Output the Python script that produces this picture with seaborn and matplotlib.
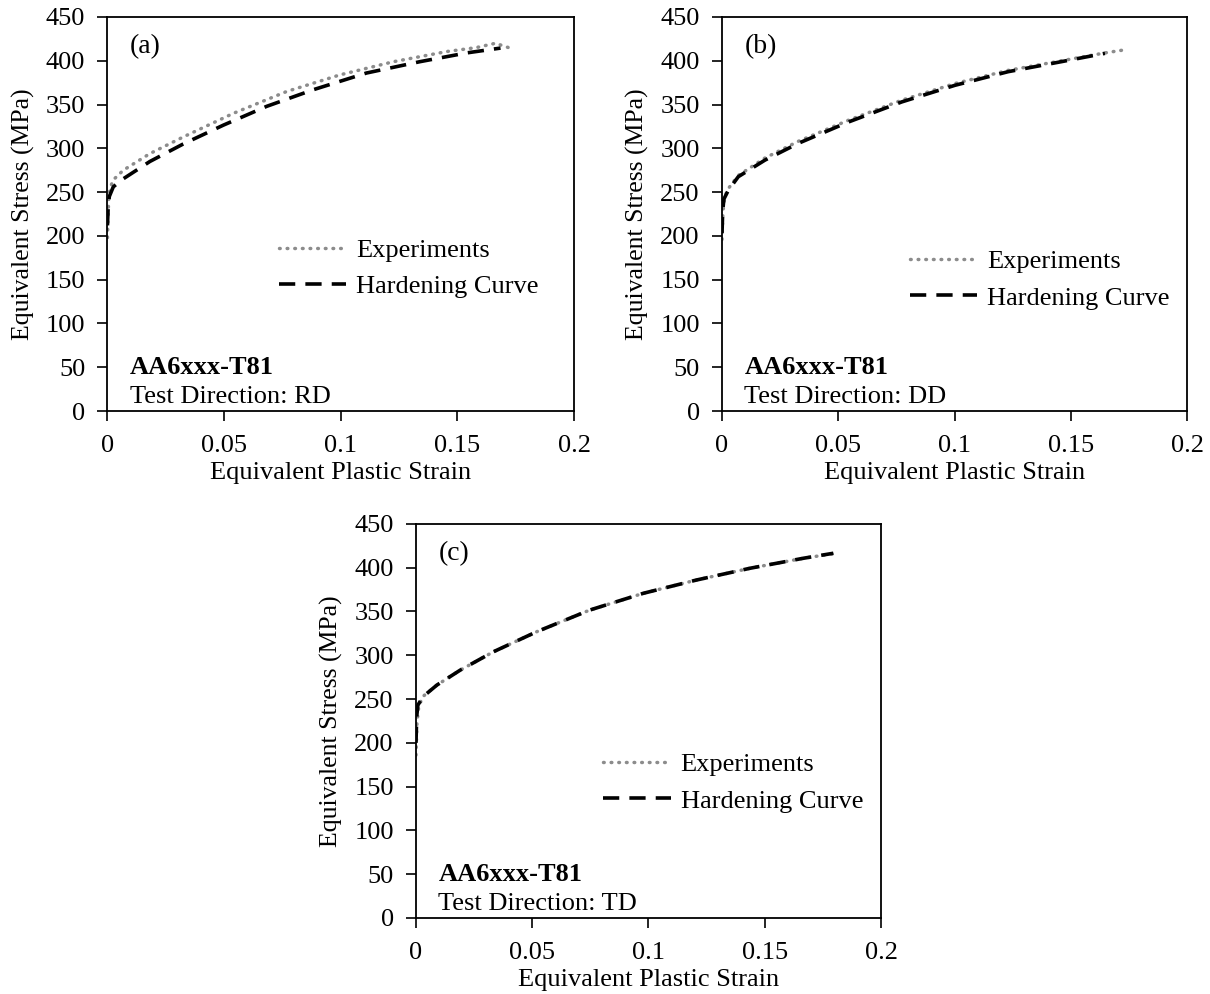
import matplotlib
matplotlib.use("Agg")
import matplotlib.pyplot as plt
import seaborn as sns
import pandas as pd

# ---------------- data ----------------
# (a) RD
a_exp_strain = [0, 0.0005, 0.0012, 0.0025, 0.0068, 0.0182, 0.0325, 0.054, 0.0769, 0.0998, 0.1227, 0.1456, 0.1580, 0.1663, 0.172]
a_exp_stress = [198, 241, 255, 264, 275, 294, 313, 340, 365, 384, 399, 410.6, 415, 420, 415]
a_fit_strain = [0, 0.0003, 0.0008, 0.0025, 0.0061, 0.0182, 0.0325, 0.0497, 0.0683, 0.0883, 0.111, 0.134, 0.154, 0.1685]
a_fit_stress = [212, 232, 245, 256, 264, 285, 305, 326.5, 348, 367, 386, 399, 409, 414.5]

# (b) DD
b_exp_strain = [0, 0.0004, 0.0012, 0.0027, 0.007, 0.0185, 0.0328, 0.0543, 0.0773, 0.1002, 0.123, 0.146, 0.1647, 0.172]
b_exp_stress = [196, 228, 245, 254, 269, 289, 308, 332, 355, 374, 389, 400, 409, 412]
b_fit_strain = [0, 0.0003, 0.0008, 0.0027, 0.007, 0.0185, 0.0328, 0.0543, 0.0773, 0.1002, 0.123, 0.146, 0.1647]
b_fit_stress = [203, 228, 242, 252, 267.6, 286.6, 305.7, 330, 353, 372, 387.5, 399, 408.5]

# (c) TD
c_exp_strain = [0, 0.0004, 0.0012, 0.003, 0.009, 0.019, 0.0333, 0.052, 0.0748, 0.0978, 0.1207, 0.1437, 0.1666, 0.1795]
c_exp_stress = [186, 222, 242, 253, 266, 283, 304, 327, 351.7, 370.8, 386, 399.4, 410.8, 416]
c_fit_strain = [0, 0.0003, 0.0008, 0.003, 0.009, 0.019, 0.0333, 0.052, 0.0748, 0.0978, 0.1207, 0.1437, 0.1666, 0.1795]
c_fit_stress = [200, 230, 243, 252.7, 266, 283, 304, 327, 351.7, 370.8, 386, 399.4, 410.8, 416.5]

panel_tags = ["(a)", "(b)", "(c)"]
directions = ["RD", "DD", "TD"]
series_names = ["Experiments", "Hardening Curve"]
x_ticks = [0, 0.05, 0.1, 0.15, 0.2]
y_ticks = [0, 50, 100, 150, 200, 250, 300, 350, 400, 450]

# ---------------- style ----------------
sns.set_theme(style="ticks")
plt.rcParams["font.family"] = ["Liberation Serif", "DejaVu Serif"]
plt.rcParams["font.size"] = 19
plt.rcParams["text.color"] = "black"
plt.rcParams["axes.labelcolor"] = "black"
plt.rcParams["xtick.color"] = "black"
plt.rcParams["ytick.color"] = "black"
plt.rcParams["axes.linewidth"] = 1.3

FS = 19
fig = plt.figure(figsize=(12.1, 9.94), dpi=100)
positions = [
    [0.0888, 0.5865, 0.3856, 0.3964],
    [0.5967, 0.5865, 0.3843, 0.3964],
    [0.3438, 0.0765, 0.3843, 0.3964],
]
legend_anchor = [(0.345, 0.362), (0.381, 0.333), (0.38, 0.343)]

panels = [
    (a_exp_strain, a_exp_stress, a_fit_strain, a_fit_stress),
    (b_exp_strain, b_exp_stress, b_fit_strain, b_fit_stress),
    (c_exp_strain, c_exp_stress, c_fit_strain, c_fit_stress),
]

for i, (es, ey, fs, fy) in enumerate(panels):
    ax = fig.add_axes(positions[i])
    df_exp = pd.DataFrame({"strain": es, "stress": ey})
    df_fit = pd.DataFrame({"strain": fs, "stress": fy})
    sns.lineplot(data=df_exp, x="strain", y="stress", ax=ax, sort=False, estimator=None,
                 color="#8c8c8c", linewidth=2.5, linestyle=(0, (0.2, 2.0)),
                 dash_capstyle="round", label=series_names[0])
    sns.lineplot(data=df_fit, x="strain", y="stress", ax=ax, sort=False, estimator=None,
                 color="black", linewidth=2.6, linestyle=(0, (4.5, 2.8)),
                 label=series_names[1])
    ax.set_xlim(0, 0.2)
    ax.set_ylim(0, 450)
    ax.set_xticks(x_ticks)
    ax.set_xticklabels([f"{t:g}" for t in x_ticks])
    ax.set_yticks(y_ticks)
    ax.tick_params(axis="both", direction="out", length=7, width=1.2, pad=9,
                   labelsize=FS, colors="black")
    ax.tick_params(axis="x", pad=10)
    for s in ax.spines.values():
        s.set_visible(True)
        s.set_color("black")
        s.set_linewidth(1.3)
    ax.set_xlabel("Equivalent Plastic Strain", fontsize=FS, labelpad=4)
    ax.set_ylabel("Equivalent Stress (MPa)", fontsize=FS - 0.5, labelpad=8)
    ax.text(0.048, 0.925, panel_tags[i], transform=ax.transAxes, fontsize=FS + 1,
            va="center", ha="left")
    ax.text(0.048, 0.11, "AA6xxx-T81", transform=ax.transAxes, fontsize=FS,
            fontweight="bold", va="center", ha="left")
    ax.text(0.048, 0.036, "Test Direction: " + directions[i], transform=ax.transAxes,
            fontsize=FS, va="center", ha="left")
    ax.legend(loc="center left", bbox_to_anchor=legend_anchor[i], frameon=False,
              fontsize=FS, handlelength=2.55, handletextpad=0.38, labelspacing=0.48,
              borderaxespad=0)

fig.savefig("out.png", dpi=100)
